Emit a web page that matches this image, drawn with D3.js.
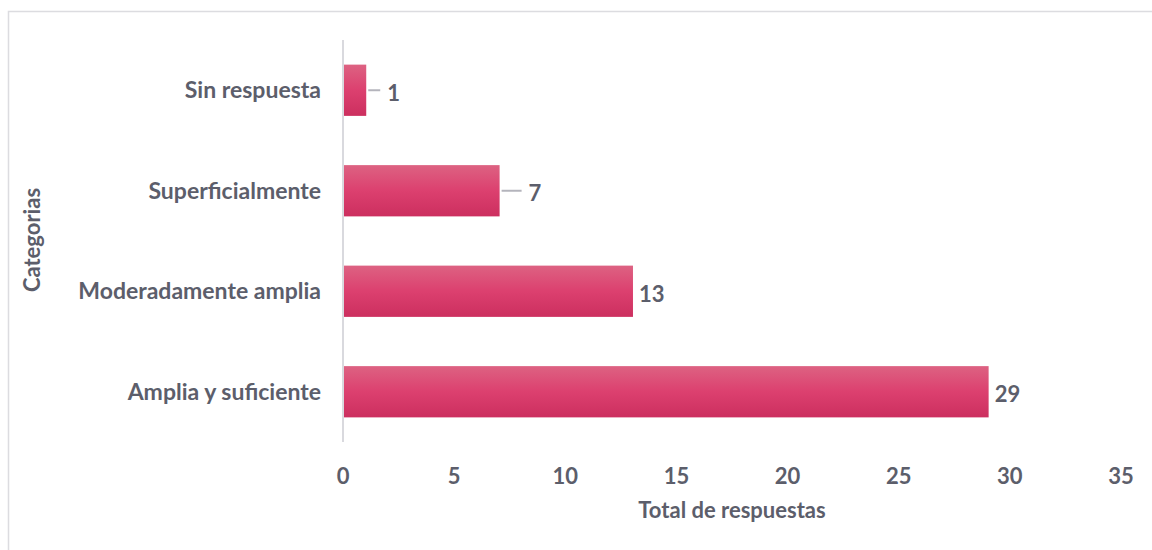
<!DOCTYPE html>
<html>
<head>
<meta charset="utf-8">
<script src="https://cdn.jsdelivr.net/npm/d3@7"></script>
<style>
body { margin: 0; background: #fff; }
text { font-family: Lato, "Open Sans", sans-serif; font-weight: bold; fill: #5c5e6b; }
</style>
</head>
<body>
<div id="chart-area"></div>
<script>
// data
var categories = ["Sin respuesta", "Superficialmente", "Moderadamente amplia", "Amplia y suficiente"];
var values = [1, 7, 13, 29];
var xTicks = [0, 5, 10, 15, 20, 25, 30, 35];
// leader line length next to label (0 = none)
var leaders = [12, 20, 0, 0];

var W = 1152, H = 550;
var margin = { left: 343, right: 30, top: 40, bottom: 108 };

var svg = d3.select("#chart-area")
	.append("svg")
	.attr("width", W)
	.attr("height", H);

// outer frame
svg.append("rect")
	.attr("x", 8.5).attr("y", 11.5)
	.attr("width", W).attr("height", H)
	.attr("fill", "none")
	.attr("stroke", "#dcdce0")
	.attr("stroke-width", 1.5);

var defs = svg.append("defs");
var grad = defs.append("linearGradient")
	.attr("id", "barGrad")
	.attr("x1", 0).attr("y1", 0).attr("x2", 0).attr("y2", 1);
grad.append("stop").attr("offset", "0%").attr("stop-color", "#dd6282");
grad.append("stop").attr("offset", "50%").attr("stop-color", "#dc406f");
grad.append("stop").attr("offset", "100%").attr("stop-color", "#cc2f5f");

var g = svg.append("g")
	.attr("transform", "translate(" + margin.left + "," + margin.top + ")");

var x = d3.scaleLinear()
	.domain([0, 35])
	.range([0, 778]);

var y = d3.scaleBand()
	.domain(categories)
	.range([0, 402])
	.paddingInner(0.49)
	.paddingOuter(0.245);

// vertical axis line
g.append("line")
	.attr("x1", 0).attr("x2", 0)
	.attr("y1", 0).attr("y2", 402)
	.attr("stroke", "#d9d9de")
	.attr("stroke-width", 2);

// category labels
g.selectAll(".cat")
	.data(categories)
	.enter()
	.append("text")
	.attr("class", "cat")
	.attr("x", -22)
	.attr("y", function (d) { return y(d) + y.bandwidth() / 2; })
	.attr("dy", "0.35em")
	.attr("text-anchor", "end")
	.style("font-size", "23px")
	.text(function (d) { return d; });

// x tick labels
g.selectAll(".tick-label")
	.data(xTicks)
	.enter()
	.append("text")
	.attr("class", "tick-label")
	.attr("x", function (d) { return x(d); })
	.attr("y", 436)
	.attr("dy", "0.35em")
	.attr("text-anchor", "middle")
	.style("font-size", "22px")
	.text(function (d) { return d; });

// bars
g.selectAll(".bar")
	.data(values)
	.enter()
	.append("rect")
	.attr("class", "bar")
	.attr("x", x(0) + 1)
	.attr("y", function (d, i) { return y(categories[i]); })
	.attr("width", function (d) { return x(d) - x(0); })
	.attr("height", y.bandwidth())
	.attr("fill", "url(#barGrad)");

// leader lines
g.selectAll(".leader")
	.data(values)
	.enter()
	.filter(function (d, i) { return leaders[i] > 0; })
	.append("line")
	.attr("class", "leader")
	.attr("x1", function (d) { return x(d) + 3; })
	.attr("x2", function (d, i) { return x(d) + 3 + leaders[i]; })
	.attr("y1", function (d, i) { return y(categories[i]) + y.bandwidth() / 2; })
	.attr("y2", function (d, i) { return y(categories[i]) + y.bandwidth() / 2; })
	.attr("stroke", "#b4b4bc")
	.attr("stroke-width", 2);

// value labels
g.selectAll(".val")
	.data(values)
	.enter()
	.append("text")
	.attr("class", "val")
	.attr("x", function (d, i) { return x(d) + (leaders[i] > 0 ? leaders[i] + 10 : 7); })
	.attr("y", function (d, i) { return y(categories[i]) + y.bandwidth() / 2 + 3; })
	.attr("dy", "0.35em")
	.style("font-size", "22px")
	.text(function (d) { return d; });

// axis titles
svg.append("text")
	.attr("x", margin.left + 389)
	.attr("y", 510)
	.attr("dy", "0.35em")
	.attr("text-anchor", "middle")
	.style("font-size", "22px")
	.text("Total de respuestas");

svg.append("text")
	.attr("transform", "translate(32," + 240 + ") rotate(-90)")
	.attr("dy", "0.35em")
	.attr("text-anchor", "middle")
	.style("font-size", "22px")
	.text("Categorias");
</script>
</body>
</html>
